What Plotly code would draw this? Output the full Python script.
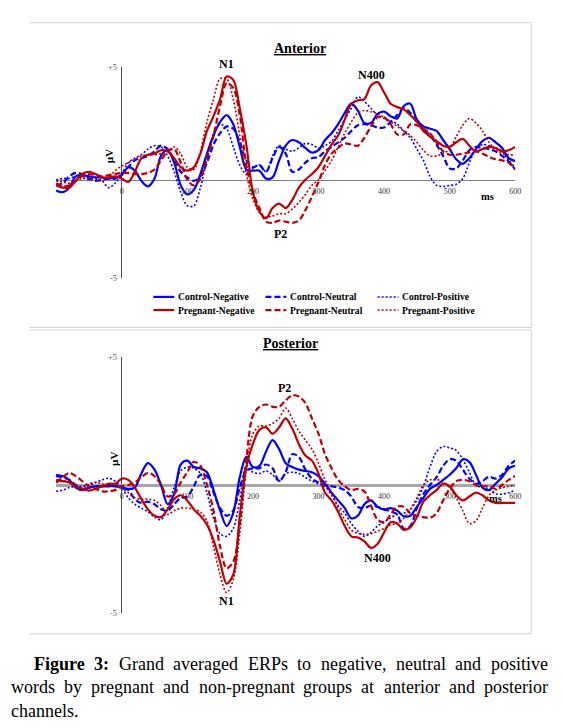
import plotly.graph_objects as go

W, H = 564, 727

# ---------------- data (µV), sampled every 10 ms from -100 to 600 ms ----------------
time_ms = list(range(-100, 601, 10))
x_tick_values = [0, 100, 200, 300, 400, 500, 600]

# Anterior channels
ant_control_negative = [
    -0.43, -0.5, -0.3, 0.2, 0.25, 0.2, 0.15, 0.15, 0.1, 0.15,
    0.25, 0.6, 0.45, 0.0, -0.25, 0.1, 1.1, 1.35, 0.8, -0.2,
    -0.6, -0.4, 0.3, 1.2, 2.0, 2.6, 2.9, 2.5, 1.5, 0.5,
    0.45, 0.45, 0.1, 0.15, 0.9, 1.55, 1.8, 1.7, 1.45, 1.25,
    1.35, 1.8, 2.1, 2.5, 3.0, 3.4, 3.1, 2.55, 2.55, 2.95,
    3.05, 2.85, 2.75, 3.3, 3.4, 2.7, 2.4, 2.3, 2.2, 1.8,
    1.4, 0.95, 0.75, 1.0, 1.4, 1.75, 1.9, 1.7, 1.45, 1.0,
    0.87]
ant_control_neutral = [
    -0.2, -0.1, 0.2, 0.35, 0.3, 0.1, 0.0, 0.05, 0.1, 0.1,
    0.3, 0.6, 0.9, 1.0, 1.1, 1.3, 1.55, 1.4, 0.9, 0.4,
    0.15, 0.0, 0.2, 0.8, 1.6, 2.1, 2.4, 2.3, 1.7, 0.9,
    0.6, 0.7, 0.4, 1.0, 1.5, 1.2, 0.4, 0.5, 0.8, 1.0,
    1.05, 1.3, 1.5, 1.7, 1.9, 2.2, 2.45, 2.5, 2.45, 2.35,
    2.35, 2.6, 2.9, 3.2, 3.0, 2.6, 2.3, 2.0, 1.6, 1.1,
    0.55, 0.55, 0.9, 1.35, 1.5, 1.45, 1.4, 1.3, 1.1, 0.85,
    0.5]
ant_control_positive = [
    0.05, 0.1, 0.1, 0.2, 0.15, 0.05, 0.1, 0.0, -0.3, -0.1,
    0.3, 0.8, 1.0, 1.15, 1.4, 1.55, 1.5, 1.1, 0.4, -0.5,
    -1.1, -1.1, -0.3, 1.0, 2.1, 2.5, 2.3, 1.5, 0.7, 0.3,
    0.55, 0.7, 0.4, 1.1, 1.55, 1.4, 1.3, 1.45, 1.65, 1.6,
    1.45, 1.55, 1.75, 2.2, 2.7, 3.2, 3.7, 3.5, 3.2, 2.9,
    2.75, 2.65, 2.5, 2.2, 1.9, 1.4, 0.9, 0.2, -0.2, -0.25,
    -0.2, -0.15, 0.1, 0.8, 1.4, 1.6, 1.55, 1.45, 1.3, 0.9,
    0.6]
ant_pregnant_negative = [
    -0.2, -0.3, -0.3, 0.0, 0.3, 0.4, 0.3, 0.15, 0.15, 0.2,
    0.1, -0.05, 0.4, 1.0, 1.15, 1.2, 1.35, 1.3, 1.0, 0.6,
    0.45, 0.6, 1.2, 2.2, 2.85, 3.6, 4.6, 4.45, 3.2, 1.6,
    -0.5, -1.35, -1.65, -1.2, -1.0, -1.2, -0.85, -0.3, 0.05, 0.3,
    0.6, 1.1, 1.6, 2.0, 2.7, 3.4, 3.55, 3.6, 4.2, 4.35,
    3.9, 3.4, 3.25, 3.15, 2.9, 2.6, 2.2, 1.95, 1.75, 1.55,
    1.5, 1.7, 1.85, 1.55, 1.3, 1.4, 1.5, 1.45, 1.3, 1.35,
    1.5]
ant_pregnant_neutral = [
    -0.1, -0.25, -0.2, 0.0, 0.2, 0.3, 0.25, 0.2, 0.25, 0.3,
    0.35, 0.35, 0.3, 0.3, 0.35, 0.5, 0.9, 1.3, 1.4, 0.8,
    0.05, -0.2, 0.1, 1.0, 2.0, 3.3, 4.3, 4.1, 2.9, 0.7,
    -0.5, -1.2, -1.8, -1.85, -1.75, -1.8, -1.85, -1.75, -1.3, -0.7,
    -0.05, 0.7, 1.2, 1.45, 1.65, 1.6, 1.55, 1.9, 2.4, 2.8,
    2.8, 2.5, 2.05, 2.05, 2.5, 2.45, 2.3, 2.1, 1.7, 1.3,
    1.15, 1.15, 1.2, 1.25, 1.3, 1.2, 1.05, 0.95, 0.9, 0.8,
    0.5]
ant_pregnant_positive = [
    0.0, -0.05, -0.1, 0.0, 0.1, 0.1, 0.05, 0.0, 0.15, 0.45,
    0.65, 0.8, 0.95, 1.1, 1.15, 1.15, 1.2, 1.3, 1.5, 1.2,
    0.6, 0.5, 1.3, 2.6, 3.6, 4.5, 4.5, 3.6, 2.0, 0.3,
    -0.8, -1.4, -1.6, -1.55, -1.45, -1.45, -1.25, -0.95, -0.6, -0.2,
    0.05, 0.45, 0.9, 1.5, 2.1, 2.6, 3.0, 3.1, 3.05, 2.95,
    2.8, 2.6, 2.4, 2.2, 2.0, 1.7, 1.35, 1.1, 1.1, 1.2,
    1.4, 1.95, 2.45, 2.75, 2.55, 2.2, 1.7, 1.35, 1.2, 1.15,
    1.15]

# Posterior channels
post_control_negative = [
    0.4, 0.35, 0.2, -0.1, -0.2, -0.1, -0.05, -0.05, -0.05, -0.05,
    -0.1, -0.15, -0.1, 0.45, 0.85, 0.6, 0.0, -0.75, -0.35, 0.8,
    0.95, 0.7, 0.65, 0.5, -0.2, -1.0, -1.6, -1.1, 0.3, 1.1,
    0.7, 0.75, 1.3, 1.75, 1.4, 0.85, 0.7, 0.6, 0.55, 0.5,
    0.35, 0.05, -0.3, -0.6, -0.9, -1.3, -1.2, -0.75, -0.6, -0.85,
    -0.95, -0.9, -1.0, -1.22, -1.2, -0.85, -0.5, -0.15, 0.0, 0.2,
    0.4, 0.65, 1.0, 0.9, 0.4, -0.1, -0.2, 0.05, 0.3, 0.65,
    0.75]
post_control_neutral = [
    0.35, 0.3, 0.2, 0.0, -0.15, -0.1, -0.05, -0.05, 0.0, 0.0,
    -0.1, -0.2, -0.55, -0.7, -0.65, -0.75, -0.95, -1.0, -0.75, -0.5,
    -0.45, -0.05, 0.4, 0.35, -0.3, -0.9, -1.2, -1.0, -0.1, 0.55,
    0.65, 0.65, 0.8, 0.65, 0.15, 0.5, 1.2, 1.1, 0.6, 0.25,
    0.1, 0.0, -0.05, -0.1, -0.2, -0.45, -0.85, -0.9, -0.8, -0.85,
    -0.95, -1.03, -1.15, -1.7, -1.6, -0.9, -0.35, 0.0, 0.3, 0.75,
    1.0, 0.95, 0.6, 0.25, 0.05, 0.15, 0.32, 0.25, 0.4, 0.75,
    0.95]
post_control_positive = [
    -0.25, -0.2, -0.1, -0.05, -0.05, 0.0, 0.1, 0.2, 0.26, 0.15,
    -0.1, -0.5, -0.75, -0.9, -1.05, -1.25, -1.35, -0.9, -0.1, 0.55,
    0.7, 0.65, 0.45, -0.3, -1.3, -1.9, -2.0, -1.7, -0.6, 0.75,
    0.5, 0.45, 0.55, 0.4, 0.15, 0.45, 0.5, 0.45, 0.3, 0.15,
    0.05, -0.05, -0.4, -0.8, -1.1, -1.5, -1.8, -2.0, -1.85, -1.6,
    -1.45, -1.28, -1.15, -1.1, -0.95, -0.6, -0.05, 0.7, 1.3, 1.5,
    1.45, 1.35, 1.0, 0.5, 0.0, -0.1, -0.15, -0.35, -0.35, -0.3,
    -0.2]
post_pregnant_negative = [
    0.2, 0.15, 0.1, -0.05, -0.15, -0.22, -0.15, -0.05, 0.05, 0.05,
    0.25, 0.2, -0.1, -0.55, -0.95, -1.2, -1.25, -0.95, -0.55, -0.4,
    -0.6, -0.95, -1.2, -1.55, -2.15, -3.0, -3.85, -3.5, -1.2, 0.7,
    1.6, 2.15, 2.25, 2.0, 2.25, 2.6, 2.2, 1.6, 1.15, 0.95,
    0.45, -0.3, -0.6, -1.05, -1.6, -2.0, -2.05, -2.2, -2.45, -2.3,
    -1.85, -1.45, -1.5, -1.75, -1.65, -1.25, -0.65, -0.4, -0.2, 0.05,
    -0.05, -0.4, -0.6, -0.45, -0.3, -0.4, -0.6, -0.7, -0.7, -0.7,
    -0.7]
post_pregnant_neutral = [
    0.1, 0.3, 0.47, 0.35, 0.15, -0.05, -0.15, -0.25, -0.25, -0.2,
    -0.05, 0.0, 0.1, 0.3, 0.47, 0.35, 0.0, -0.45, -0.35, 0.1,
    0.5, 0.9, 0.75, 0.0, -1.0, -2.4, -3.25, -3.0, -1.5, 1.0,
    2.7, 3.05, 3.14, 3.05, 3.05, 3.3, 3.5, 3.45, 3.2, 2.6,
    2.0, 1.2, 0.65, 0.2, -0.05, -0.2, -0.15, -0.25, -0.8, -1.35,
    -1.45, -1.15, -0.85, -0.85, -1.1, -1.2, -1.25, -1.28, -1.1, -0.6,
    -0.15, 0.15, 0.2, 0.15, 0.0, -0.05, -0.05, -0.15, 0.0, 0.2,
    0.35]
post_pregnant_positive = [
    0.1, 0.15, 0.15, -0.05, -0.2, 0.05, 0.1, 0.05, -0.05, 0.0,
    -0.15, -0.3, -0.5, -0.55, -0.55, -0.6, -0.8, -1.15, -1.0, -0.9,
    -0.9, -0.95, -1.05, -1.4, -2.4, -3.5, -4.2, -3.7, -1.9, 0.6,
    2.0, 2.3, 2.3, 2.4, 2.6, 3.0, 2.6, 2.1, 1.75, 1.4,
    0.85, 0.2, -0.3, -0.9, -1.35, -1.75, -1.88, -1.92, -1.9, -1.8,
    -1.7, -1.55, -1.5, -1.3, -0.95, -0.5, 0.0, 0.2, 0.22, 0.1,
    -0.1, -0.5, -1.0, -1.5, -1.4, -0.9, -0.4, -0.2, -0.1, -0.05,
    0.0]

series_names = ["Control-Negative", "Control-Neutral", "Control-Positive",
                "Pregnant-Negative", "Pregnant-Neutral", "Pregnant-Positive"]
anterior_series = [ant_control_negative, ant_control_neutral, ant_control_positive,
                   ant_pregnant_negative, ant_pregnant_neutral, ant_pregnant_positive]
posterior_series = [post_control_negative, post_control_neutral, post_control_positive,
                    post_pregnant_negative, post_pregnant_neutral, post_pregnant_positive]

# ---------------- styles ----------------
BLUE, RED = "#0000FF", "#C00000"
series_colors = [BLUE, BLUE, BLUE, RED, RED, RED]
series_dash = ["solid", "6px,3px", "2px,2px"] * 2
series_width = [2.2, 2.2, 1.6] * 2

SERIF = "Liberation Serif, Times New Roman, serif"


def px(x):
    return x / W


def py(y):
    return 1 - y / H


# plot areas (pixel geometry of the reference)
X_LEFT, X_RIGHT = 56.7, 520.8
T_MIN, T_MAX = -100, 600
ANT_RANGE = [-4.3, 5.0]
ANT_TOP, ANT_BOT = 63.3, 277.2
POST_RANGE = [-5.0, 5.0]
POST_TOP, POST_BOT = 356.7, 616.7


def t_to_paper(t):
    return px(X_LEFT + (t - T_MIN) / (T_MAX - T_MIN) * (X_RIGHT - X_LEFT))


def zero_paper(rng, top, bot):
    frac = (0 - rng[0]) / (rng[1] - rng[0])
    return py(bot) + frac * (py(top) - py(bot))


fig = go.Figure()

for vals_list, xa, ya in ((anterior_series, "x", "y"), (posterior_series, "x2", "y2")):
    for name, vals, col, dash, lw in zip(series_names, vals_list, series_colors,
                                         series_dash, series_width):
        assert len(vals) == len(time_ms), name
        fig.add_trace(go.Scatter(
            x=time_ms, y=vals, mode="lines", name=name,
            line=dict(color=col, width=lw, dash=dash, shape="spline", smoothing=0.9),
            xaxis=xa, yaxis=ya, showlegend=False, hoverinfo="skip"))

x_dom = [px(X_LEFT), px(X_RIGHT)]
tick_font = dict(family=SERIF, size=8, color="#333333")
ytick_font = dict(family=SERIF, size=8.5, color="#595959")

common_x = dict(domain=x_dom, range=[T_MIN, T_MAX], anchor="free", showgrid=False,
                showline=False, tickvals=x_tick_values, ticks="outside", ticklen=3,
                tickcolor="rgba(0,0,0,0)", tickfont=tick_font, zeroline=True,
                zerolinecolor="#4d4d4d", zerolinewidth=1)

fig.update_layout(
    width=W, height=H, margin=dict(l=0, r=0, t=0, b=0),
    paper_bgcolor="white", plot_bgcolor="white", showlegend=False,
    xaxis=dict(common_x, position=zero_paper(ANT_RANGE, ANT_TOP, ANT_BOT)),
    yaxis=dict(domain=[py(ANT_BOT), py(ANT_TOP)], range=ANT_RANGE, anchor="free",
               position=t_to_paper(0), showgrid=False, showline=False,
               tickvals=[ANT_RANGE[1], ANT_RANGE[0]], ticktext=["+5", "-5"],
               ticks="outside", ticklen=3, tickcolor="rgba(0,0,0,0)", tickfont=ytick_font,
               zeroline=True, zerolinecolor="#808080", zerolinewidth=1),
    xaxis2=dict(common_x, position=zero_paper(POST_RANGE, POST_TOP, POST_BOT)),
    yaxis2=dict(domain=[py(POST_BOT), py(POST_TOP)], range=POST_RANGE, anchor="free",
                position=t_to_paper(0), showgrid=False, showline=False,
                tickvals=[POST_RANGE[1], POST_RANGE[0]], ticktext=["+5", "-5"],
                ticks="outside", ticklen=3, tickcolor="rgba(0,0,0,0)", tickfont=ytick_font,
                zeroline=True, zerolinecolor="#a6a6a6", zerolinewidth=2.5),
)

shapes = []
annotations = []


def line_px(x0, y0, x1, y1, color="#d4d4d4", width=1, dash="solid"):
    shapes.append(dict(type="line", xref="paper", yref="paper",
                       x0=px(x0), y0=py(y0), x1=px(x1), y1=py(y1),
                       line=dict(color=color, width=width, dash=dash)))


def text_px(x, y, text, size, bold=False, color="black", xanchor="center", angle=0):
    annotations.append(dict(xref="paper", yref="paper", x=px(x), y=py(y),
                            text=f"<b>{text}</b>" if bold else text, showarrow=False,
                            xanchor=xanchor, yanchor="middle", textangle=angle,
                            font=dict(family=SERIF, size=size, color=color)))


# panel frames (top, right, bottom edges)
for top, bot in ((18, 327), (329.5, 637.5)):
    line_px(30, top, 537, top)
    line_px(537, top, 537, bot)
    line_px(30, bot, 537, bot)

# titles and component labels
text_px(303, 44, "<u>Anterior</u>", 14, bold=True)
text_px(293.5, 343.5, "<u>Posterior</u>", 14, bold=True)
text_px(229, 60, "N1", 12, bold=True)
text_px(375, 71, "N400", 12, bold=True)
text_px(283.5, 232.5, "P2", 12, bold=True)
text_px(287.5, 388.5, "P2", 12, bold=True)
text_px(381.5, 561, "N400", 12, bold=True)
text_px(229, 604.5, "N1", 12, bold=True)
text_px(493, 194, "ms", 10.5, bold=True)
text_px(501, 500.5, "ms", 10.5, bold=True)
text_px(110.5, 153, "µV", 11, bold=True, angle=-90)
text_px(114.5, 460, "µV", 11, bold=True, angle=-90)

# manual legend (3 columns x 2 rows)
leg_cols = [155.0, 268.3, 381.7]
leg_rows = [296.0, 309.3]
for i, name in enumerate(series_names):
    r, c = divmod(i, 3)
    x0, y0 = leg_cols[c], leg_rows[r]
    line_px(x0, y0, x0 + 21, y0, color=series_colors[i], width=series_width[i],
            dash=series_dash[i])
    text_px(x0 + 22.5, y0, name, 9.6, bold=True, xanchor="left")

# caption with justified lines (Times metrics)
REG = {' ': 250, 'a': 444, 'b': 500, 'c': 444, 'd': 500, 'e': 444, 'f': 333, 'g': 500,
       'h': 500, 'i': 278, 'j': 278, 'k': 500, 'l': 278, 'm': 778, 'n': 500, 'o': 500,
       'p': 500, 'q': 500, 'r': 333, 's': 389, 't': 278, 'u': 500, 'v': 500, 'w': 722,
       'x': 500, 'y': 500, 'z': 444, ',': 250, '.': 250, '-': 333, ':': 278,
       'E': 611, 'R': 667, 'P': 556, 'G': 722, 'F': 556}
BOLD = {'F': 611, 'i': 278, 'g': 500, 'u': 556, 'r': 444, 'e': 444, '3': 500, ':': 333}
CAP_SIZE = 18


def word_width(word, bold):
    table = BOLD if bold else REG
    return sum(table.get(ch, 500) for ch in word) / 1000 * CAP_SIZE


def caption_line(words, x_start, x_end, y, justify=True):
    widths = [word_width(w, b) for w, b in words]
    if justify and len(words) > 1:
        gap = (x_end - x_start - sum(widths)) / (len(words) - 1)
    else:
        gap = REG[' '] / 1000 * CAP_SIZE
    x = x_start
    for (w, b), wd in zip(words, widths):
        annotations.append(dict(xref="paper", yref="paper", x=px(x - 1), y=py(y),
                                text=f"<b>{w}</b>" if b else w, showarrow=False,
                                xanchor="left", yanchor="middle",
                                font=dict(family=SERIF, size=CAP_SIZE, color="black")))
        x += wd + gap


line1 = [("Figure", True), ("3:", True)] + [(w, False) for w in
         "Grand averaged ERPs to negative, neutral and positive".split()]
line2 = [(w, False) for w in
         "words by pregnant and non-pregnant groups at anterior and posterior".split()]
line3 = [("channels.", False)]
caption_line(line1, 33, 552, 668)
caption_line(line2, 10, 552, 692)
caption_line(line3, 10, 552, 716, justify=False)

fig.update_layout(shapes=shapes, annotations=annotations)
# the page's default body margin would offset the 564x727 figure inside the window
fig.write_html("out.html", config={"displayModeBar": False},
               post_script="document.body.style.margin='0px';")
